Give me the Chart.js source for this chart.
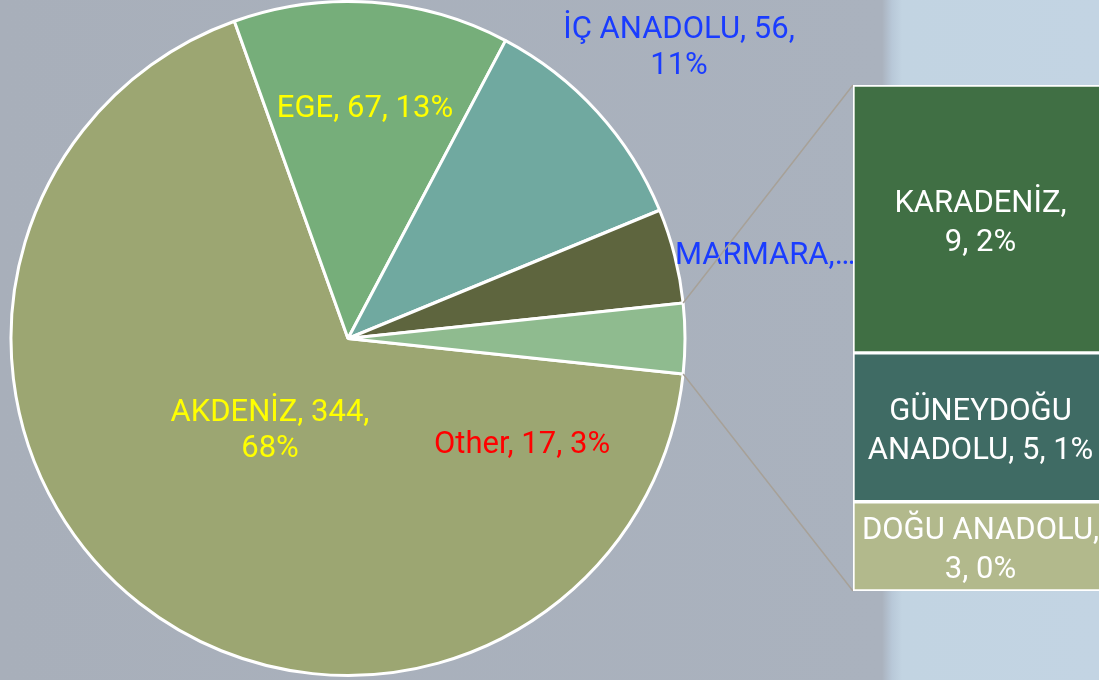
<!DOCTYPE html>
<html>
<head>
<meta charset="utf-8">
<script src="https://cdn.jsdelivr.net/npm/chart.js@4/dist/chart.umd.min.js"></script>
<style>
  html, body { margin: 0; padding: 0; width: 1099px; height: 680px; overflow: hidden; }
  body { position: relative; background: linear-gradient(to right, #a8afba 0px, #aab2be 882px, #b8c8d8 892px, #c2d4e2 902px, #c3d4e3 1099px); }
  canvas { position: absolute; left: 0; top: 0; }
</style>
</head>
<body>
<canvas id="pieCanvas" width="1099" height="680"></canvas>
<canvas id="barCanvas" width="1112" height="680"></canvas>
<script>
// pie: main regions + the "Other" slice
const pieNames = ["AKDENİZ", "EGE", "İÇ ANADOLU", "MARMARA", "Other"];
const pieValues = [344, 67, 56, 23, 17];
const piePct = [68, 13, 11, 5, 3];
const pieColors = ["#9ca672", "#76ae7a", "#70a9a0", "#5e653e", "#8fbb8f"];

// bar: breakdown of "Other"
const barNames = ["KARADENİZ", "GÜNEYDOĞU ANADOLU", "DOĞU ANADOLU"];
const barValues = [9, 5, 3];
const barPct = [2, 1, 0];
const barColors = ["#406f44", "#3f6b64", "#b2b98c"];

const FONT = "31px Roboto";
const otherIdx = pieNames.indexOf("Other");
const pieTotal = pieValues.reduce((a, b) => a + b, 0);
const barTotal = barValues.reduce((a, b) => a + b, 0);

function labelText(name, value, pct) { return `${name}, ${value}, ${pct}%`; }
function splitWords(text, n) {
    const w = text.split(" ");
    if (!n || n >= w.length) return [text];
    return [w.slice(0, n).join(" "), w.slice(n).join(" ")];
}

// where Excel put the pie labels (baselines)
const pieLabelLayout = [
    { x: 270, y: 421, color: "#ffff00", words: 2, align: "center" },
    { x: 365, y: 117, color: "#ffff00", words: 0, align: "center" },
    { x: 679, y: 38, color: "#1a3cff", words: 3, align: "center" },
    { x: 675, y: 264, color: "#1a3cff", truncate: true, align: "left" },
    { x: 522, y: 453, color: "#ff0000", words: 0, align: "center" }
];
const barLabelWords = [1, 1, 2];

const pieLabels = {
    id: "pieLabels",
    afterDraw(chart) {
        const ctx = chart.ctx;
        ctx.save();
        ctx.font = FONT;
        ctx.textBaseline = "alphabetic";
        pieNames.forEach((n, i) => {
            const l = pieLabelLayout[i];
            ctx.fillStyle = l.color;
            ctx.textAlign = l.align;
            const lines = l.truncate ? [n + ",…"] : splitWords(labelText(n, pieValues[i], piePct[i]), l.words);
            lines.forEach((t, k) => ctx.fillText(t, l.x, l.y + k * 36));
        });
        ctx.restore();
    }
};

// rotate so the "Other" slice points to 3 o'clock
const beforeOther = pieValues.slice(0, otherIdx).reduce((a, b) => a + b, 0);
const rotation = 90 - (beforeOther + pieValues[otherIdx] / 2) / pieTotal * 360;

const pieChart = new Chart(document.getElementById("pieCanvas"), {
    type: "pie",
    data: {
        labels: pieNames,
        datasets: [{ data: pieValues, backgroundColor: pieColors, borderColor: "#ffffff", borderWidth: 3 }]
    },
    options: {
        responsive: false, animation: false, rotation: rotation,
        layout: { padding: { left: 0, right: 403, top: 0, bottom: 3 } },
        plugins: { legend: { display: false }, tooltip: { enabled: false } }
    },
    plugins: [pieLabels]
});

const barExtras = {
    id: "barExtras",
    beforeDatasetsDraw(chart) {
        // connector lines from the Other slice to the bar
        const arc = pieChart.getDatasetMeta(0).data[otherIdx];
        const bar = chart.getDatasetMeta(0).data[0];
        const left = bar.x - bar.width / 2;
        const ctx = chart.ctx;
        ctx.save();
        ctx.strokeStyle = "#a7a198";
        ctx.lineWidth = 1.5;
        ctx.beginPath();
        ctx.moveTo(arc.x + arc.outerRadius * Math.cos(arc.startAngle), arc.y + arc.outerRadius * Math.sin(arc.startAngle));
        ctx.lineTo(left, chart.chartArea.top);
        ctx.moveTo(arc.x + arc.outerRadius * Math.cos(arc.endAngle), arc.y + arc.outerRadius * Math.sin(arc.endAngle));
        ctx.lineTo(left, chart.chartArea.bottom);
        ctx.stroke();
        ctx.restore();
    },
    afterDatasetsDraw(chart) {
        const ctx = chart.ctx;
        ctx.save();
        ctx.font = FONT;
        ctx.fillStyle = "#ffffff";
        ctx.textAlign = "center";
        ctx.textBaseline = "alphabetic";
        barNames.forEach((n, i) => {
            const el = chart.getDatasetMeta(i).data[0];
            const top = Math.min(el.y, el.base), bot = Math.max(el.y, el.base);
            const cy = (top + bot) / 2;
            ctx.save();
            ctx.beginPath();
            ctx.rect(el.x - el.width / 2 + 3, top, el.width - 6, bot - top);
            ctx.clip();
            const lines = splitWords(labelText(n, barValues[i], barPct[i]), barLabelWords[i]);
            lines.forEach((t, k) => ctx.fillText(t, el.x - 2, cy - 7 + k * 39));
            ctx.restore();
        });
        ctx.restore();
    }
};

new Chart(document.getElementById("barCanvas"), {
    type: "bar",
    data: {
        labels: ["Other"],
        datasets: barNames.map((n, i) => ({
            label: n, data: [barValues[i]], backgroundColor: barColors[i],
            borderColor: "#ffffff", borderWidth: 2, borderSkipped: false,
            barPercentage: 1, categoryPercentage: 1
        }))
    },
    options: {
        responsive: false, animation: false,
        layout: { padding: { left: 853, right: 0, top: 85, bottom: 89 } },
        scales: {
            x: { display: false, stacked: true },
            y: { display: false, stacked: true, reverse: true, min: 0, max: barTotal }
        },
        plugins: { legend: { display: false }, tooltip: { enabled: false } }
    },
    plugins: [barExtras]
});
</script>
</body>
</html>
